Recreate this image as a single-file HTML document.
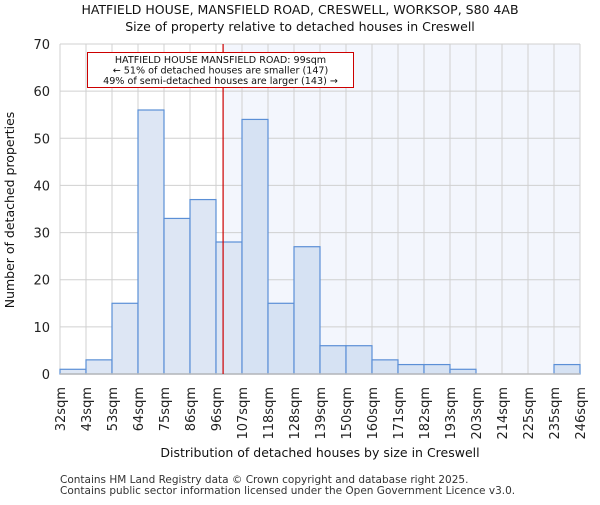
<!DOCTYPE html>
<html><head><meta charset="utf-8"><style>body{margin:0;background:#fff}text{font-family:"DejaVu Sans","Liberation Sans",sans-serif}</style></head>
<body>
<svg id="c" width="600" height="500" xmlns="http://www.w3.org/2000/svg"></svg>
<script>
const categories=["32sqm","43sqm","53sqm","64sqm","75sqm","86sqm","96sqm","107sqm","118sqm","128sqm","139sqm","150sqm","160sqm","171sqm","182sqm","193sqm","203sqm","214sqm","225sqm","235sqm","246sqm"];
const counts=[1,3,15,56,33,37,28,54,15,27,6,6,3,2,2,1,0,0,0,2];
const yTicks=[0,10,20,30,40,50,60,70];
const markerValue=99;
const markerBinIndex=6;
const markerBinStart=96, markerBinEnd=107;
const L=60,R=580,T=44,B=374,yMax=70;
const n=counts.length,bw=(R-L)/n;
const X=i=>L+i*bw;
const Y=v=>B-v/yMax*(B-T);
const svg=document.getElementById('c');
const NS="http://www.w3.org/2000/svg";
function el(t,a,p){const e=document.createElementNS(NS,t);for(const k in a)e.setAttribute(k,a[k]);(p||svg).appendChild(e);return e;}
const mx=X(markerBinIndex)+(markerValue-markerBinStart)/(markerBinEnd-markerBinStart)*bw;
let r=el('rect',{x:mx,y:T,width:R-mx,height:B-T,fill:'#f3f6fd'});


for(let i=0;i<=n;i++){let g=el('line',{x1:X(i),x2:X(i),y1:T,y2:B,stroke:'#d0d0d0'});

}
yTicks.forEach(v=>{let g=el('line',{x1:L,x2:R,y1:Y(v),y2:Y(v),stroke:'#d0d0d0'});


let t=el('text',{x:L-10,y:Y(v)+5,'text-anchor':'end','font-size':13,fill:'#222'});t.textContent=v;

});
counts.forEach((v,i)=>{if(v<=0)return;let b=el('rect',{x:X(i),y:Y(v),width:bw,height:B-Y(v),fill:i>=7?'#d6e2f3':'#dde6f4',stroke:'#5b8fd6','stroke-width':1.2});

});
let ax=el('line',{x1:L,x2:R,y1:B,y2:B,stroke:'#bbb','stroke-width':1.5});


categories.forEach((c,i)=>{let t=el('text',{transform:`translate(${X(i)+5},${B+13}) rotate(-90)`,'text-anchor':'end','font-size':13,fill:'#222'});t.textContent=c;

});
let ml=el('line',{x1:mx,x2:mx,y1:T,y2:B,stroke:'#cc0000','stroke-width':1.2});


let box=el('rect',{x:87.5,y:52.5,width:266,height:35,fill:'#fff',stroke:'#cc0000'});


["HATFIELD HOUSE MANSFIELD ROAD: 99sqm","← 51% of detached houses are smaller (147)","49% of semi-detached houses are larger (143) →"].forEach((s,k)=>{let t=el('text',{x:220.5,y:63+k*10.5,'text-anchor':'middle','font-size':9.6,fill:'#111'});t.textContent=s;

});
function txt(s,a,name){let t=el('text',a);t.textContent=s;}
txt("HATFIELD HOUSE, MANSFIELD ROAD, CRESWELL, WORKSOP, S80 4AB",{x:300,y:14,'text-anchor':'middle','font-size':12.5,fill:'#111'},'chart-title');
txt("Size of property relative to detached houses in Creswell",{x:300,y:31,'text-anchor':'middle','font-size':12.5,fill:'#111'},'chart-subtitle');
txt("Distribution of detached houses by size in Creswell",{x:320,y:457,'text-anchor':'middle','font-size':12.5,fill:'#111'},'x-axis-title');
txt("Number of detached properties",{transform:'translate(14,210) rotate(-90)','text-anchor':'middle','font-size':12.5,fill:'#111'},'y-axis-title');
txt("Contains HM Land Registry data © Crown copyright and database right 2025.",{x:60,y:483,'font-size':10.5,fill:'#333'},'footer-line-1');
txt("Contains public sector information licensed under the Open Government Licence v3.0.",{x:60,y:494,'font-size':10.5,fill:'#333'},'footer-line-2');
</script>
</body></html>
